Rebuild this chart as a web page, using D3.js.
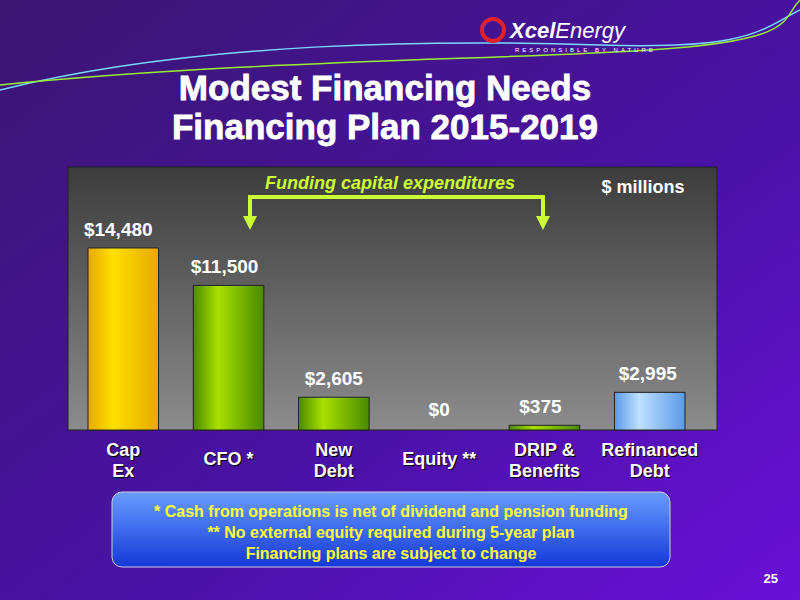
<!DOCTYPE html><html><head><meta charset="utf-8">
<script src="https://cdn.jsdelivr.net/npm/d3@7"></script>
<style>body{margin:0}svg{display:block;font-family:"Liberation Sans",Arial,sans-serif}</style></head><body>
<script>
const categories=[["Cap","Ex"],["CFO *"],["New","Debt"],["Equity **"],["DRIP &","Benefits"],["Refinanced","Debt"]];
const values=[14480,11500,2605,0,375,2995];
const valueLabels=["$14,480","$11,500","$2,605","$0","$375","$2,995"];
const notes=["* Cash from operations is net of dividend and pension funding","** No external equity required during 5-year plan","Financing plans are subject to change"];
const barColors=[["#ffe000","#e8a800"],["#a8e000","#4a8a00"],["#a8e000","#4a8a00"],["#a8e000","#4a8a00"],["#a8e000","#4a8a00"],["#bfe0ff","#5a9ae8"]];

const svg=d3.select("body").append("svg").attr("width",800).attr("height",600);
const defs=svg.append("defs");
const bg=defs.append("linearGradient").attr("id","bg").attr("x1",0).attr("y1",0).attr("x2",1).attr("y2",1);
bg.append("stop").attr("offset",0).attr("stop-color","#3a1670");
bg.append("stop").attr("offset",0.6).attr("stop-color","#4a12a8");
bg.append("stop").attr("offset",1).attr("stop-color","#6a10d8");
svg.append("rect").attr("width",800).attr("height",600).attr("fill","url(#bg)");
svg.append("path").attr("d","M0,90 C200,40 450,40 600,45 S760,30 800,10").attr("fill","none").attr("stroke","#7ad7ff").attr("stroke-width",1.5);
svg.append("path").attr("d","M0,85 C250,60 500,60 650,50 S780,20 800,0").attr("fill","none").attr("stroke","#99ee33").attr("stroke-width",1.5);
svg.append("circle").attr("cx",493).attr("cy",30).attr("r",11).attr("fill","none").attr("stroke","#e0202a").attr("stroke-width",4);
svg.append("text").attr("x",510).attr("y",38).attr("fill","#fff").attr("font-size",22).attr("font-weight","bold").attr("font-style","italic").text("Xcel").append("tspan").attr("font-weight","normal").text("Energy");
svg.append("text").attr("x",515).attr("y",52).attr("fill","#fff").attr("font-size",6).attr("letter-spacing",3).text("RESPONSIBLE BY NATURE");
svg.selectAll("text.t").data(["Modest Financing Needs","Financing Plan 2015-2019"]).join("text").attr("x",385).attr("y",(d,i)=>100+i*39).attr("text-anchor","middle").attr("fill","#fff").attr("font-size",35).attr("font-weight","bold").attr("stroke","#fff").attr("stroke-width",0.8).text(d=>d);

const L=68,R=717,T=167,B=430;
const pg=defs.append("linearGradient").attr("id","pg").attr("x1",0).attr("y1",0).attr("x2",0).attr("y2",1);
pg.append("stop").attr("offset",0).attr("stop-color","#3c3c3c");pg.append("stop").attr("offset",1).attr("stop-color","#8c8c8c");
svg.append("rect").attr("x",L).attr("y",T).attr("width",R-L).attr("height",B-T).attr("fill","url(#pg)").attr("stroke","#222");

const x=d3.scaleBand().domain(d3.range(6)).range([88,685]).paddingInner(0.33).paddingOuter(0);
const y=d3.scaleLinear().domain([0,20920]).range([B,T]);
barColors.forEach((c,i)=>{const g=defs.append("linearGradient").attr("id","b"+i);
 g.append("stop").attr("offset",0).attr("stop-color",c[1]);g.append("stop").attr("offset",0.35).attr("stop-color",c[0]);g.append("stop").attr("offset",1).attr("stop-color",c[1]);});
svg.selectAll("rect.bar").data(values).join("rect").attr("x",(d,i)=>x(i)).attr("width",x.bandwidth()).attr("y",d=>y(d)).attr("height",d=>B-y(d)).attr("fill",(d,i)=>`url(#b${i})`).attr("stroke","#222");
const dx=[-5,-4,0,0,-4,-2];
svg.selectAll("text.v").data(values).join("text").attr("x",(d,i)=>x(i)+x.bandwidth()/2+dx[i]).attr("y",d=>Math.min(y(d)-12,416)).attr("text-anchor","middle").attr("fill","#fff").attr("font-size",19).attr("font-weight","bold").text((d,i)=>valueLabels[i]);
const cg=svg.selectAll("g.c").data(categories).join("g").attr("transform",(d,i)=>`translate(${x(i)+x.bandwidth()/2},0)`);
cg.selectAll("text").data(d=>d.length===1?[[d[0],460]]:d.map((s,j)=>[s,451+j*21])).join("text").attr("y",d=>d[1]+5).attr("text-anchor","middle").attr("fill","#fff").attr("font-size",18).attr("font-weight","bold").style("text-shadow","1px 1px 1px #000").text(d=>d[0]);
const gc="#ccff33";
svg.append("path").attr("d","M250,222 V197 H543 V222").attr("fill","none").attr("stroke",gc).attr("stroke-width",4);
[250,543].forEach(cx=>svg.append("path").attr("d",`M${cx-7},216 L${cx+7},216 L${cx},230 Z`).attr("fill",gc));
svg.append("text").attr("x",390).attr("y",189).attr("text-anchor","middle").attr("fill",gc).attr("font-size",18).attr("font-weight","bold").attr("font-style","italic").text("Funding capital expenditures");
svg.append("text").attr("x",643).attr("y",193).attr("text-anchor","middle").attr("fill","#fff").attr("font-size",18).attr("font-weight","bold").text("$ millions");
const nb=defs.append("linearGradient").attr("id","nb").attr("x1",0).attr("y1",0).attr("x2",0).attr("y2",1);
nb.append("stop").attr("offset",0).attr("stop-color","#6a9cff");nb.append("stop").attr("offset",1).attr("stop-color","#1438d8");
svg.append("rect").attr("x",112).attr("y",492).attr("width",558).attr("height",75).attr("rx",10).attr("fill","url(#nb)").attr("stroke","#ccd").attr("stroke-width",1);
svg.selectAll("text.n").data(notes).join("text").attr("x",391).attr("y",(d,i)=>517+i*21).attr("text-anchor","middle").attr("fill","#ffff33").attr("font-size",16).attr("font-weight","bold").text(d=>d);
svg.append("text").attr("x",778).attr("y",583).attr("text-anchor","end").attr("fill","#fff").attr("font-size",13).attr("font-weight","bold").text("25");
</script></body></html>
